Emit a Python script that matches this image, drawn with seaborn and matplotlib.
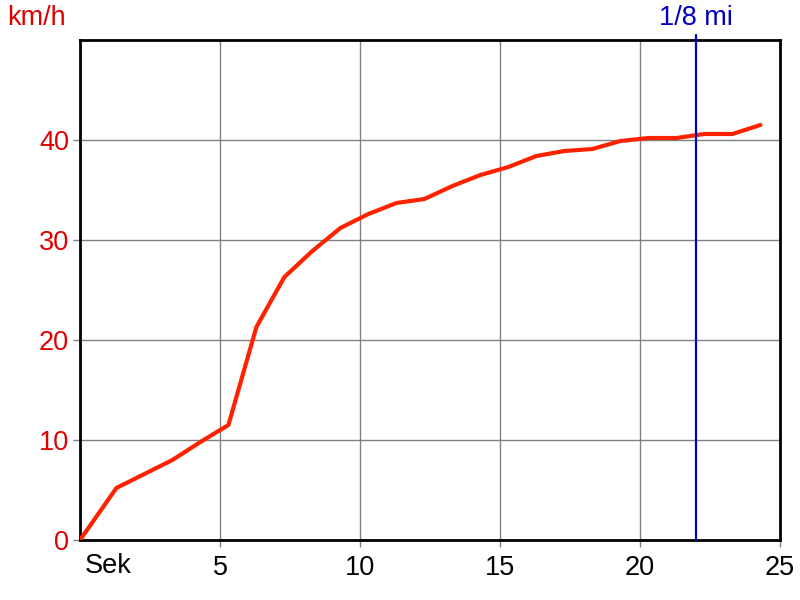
import matplotlib
matplotlib.use("Agg")
import matplotlib.pyplot as plt
import seaborn as sns
import pandas as pd

# data
seconds = [0, 1.3, 2.3, 3.3, 4.3, 5.3, 6.3, 7.3, 8.3, 9.3, 10.3, 11.3, 12.3,
           13.3, 14.3, 15.3, 16.3, 17.3, 18.3, 19.3, 20.3, 21.3, 22.3, 23.3, 24.3]
speed_kmh = [0, 5.2, 6.6, 8.0, 9.8, 11.5, 21.3, 26.3, 28.9, 31.2, 32.6, 33.7, 34.1,
             35.4, 36.5, 37.3, 38.4, 38.9, 39.1, 39.9, 40.2, 40.2, 40.6, 40.6, 41.5]
marker_time = 22.0
marker_label = "1/8 mi"
x_ticks = [5, 10, 15, 20, 25]
y_ticks = [0, 10, 20, 30, 40]
y_unit = "km/h"
x_unit = "Sek"

sns.set_theme(style="white")
plt.rcParams['font.family'] = ['Liberation Sans', 'DejaVu Sans']

df = pd.DataFrame({"t": seconds, "v": speed_kmh})

W, H = 800, 600
FS = 19.5
fig = plt.figure(figsize=(8, 6), dpi=100)
ax = fig.add_axes([80 / W, 60 / H, 700 / W, 500 / H])

ax.set_xlim(0, 25)
ax.set_ylim(0, 50)
ax.set_xticks(x_ticks)
ax.set_yticks(y_ticks)
ax.grid(True, color="#808080", linewidth=1)
ax.set_axisbelow(True)

sns.lineplot(data=df, x="t", y="v", ax=ax, color="#ff2200", linewidth=3, zorder=3)
ax.axvline(marker_time, color="#0000c0", linewidth=1.6, zorder=4, clip_on=False,
           ymin=0, ymax=1.01)

ax.set_xlabel("")
ax.set_ylabel("")
for s in ax.spines.values():
    s.set_color("black")
    s.set_linewidth(2)

ax.tick_params(axis="y", colors="#808080", labelcolor="#e00000", labelsize=FS,
               length=5, width=1, direction="out", pad=3, left=True)
ax.tick_params(axis="x", colors="#808080", labelcolor="black", labelsize=FS,
               length=5, width=1, direction="out", pad=6, bottom=True)

fig.text(7 / W, 1 - 18 / H, y_unit, color="#e00000", fontsize=FS,
         ha="left", va="center")
ax.annotate(marker_label, xy=(marker_time, 1), xycoords=("data", "axes fraction"),
            xytext=(0, 22), textcoords="offset pixels", color="#0000c0",
            fontsize=FS, ha="center", va="center")
ax.annotate(x_unit, xy=(0, 0), xycoords="axes fraction",
            xytext=(5, -26), textcoords="offset pixels", color="black",
            fontsize=FS, ha="left", va="center")

fig.savefig("out.png", dpi=100)
